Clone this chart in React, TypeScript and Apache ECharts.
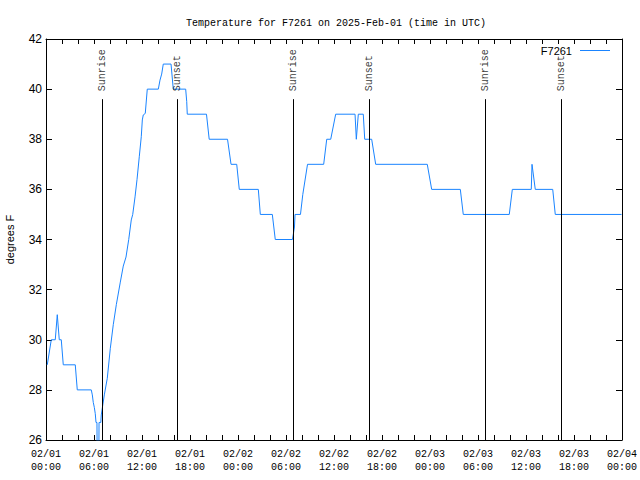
import React, { useEffect, useRef } from "react";
import * as echarts from "echarts";

const titleText = "Temperature for F7261 on 2025-Feb-01 (time in UTC)";
const seriesName = "F7261";
const yAxisName = "degrees F";

// hours since 2025-02-01 00:00 UTC
const tempHours = [
  0.16, 0.66, 1.16, 1.41, 1.66, 1.91, 2.16, 3.66, 3.91, 5.66, 5.79, 5.91, 6.04, 6.16, 6.25,
  6.37, 6.4, 6.6, 6.63, 6.85, 6.91, 7.29, 7.66, 8.04, 8.41, 8.79, 9.29, 9.66, 10.0, 10.34,
  10.66, 10.84, 11.13, 11.38, 11.66, 11.91, 12.04, 12.16, 12.41, 12.66, 14.04, 14.25, 14.46,
  14.66, 15.63, 15.91, 17.46, 17.59, 17.66, 20.06, 20.4, 22.69, 23.13, 23.84, 24.16, 26.54,
  26.79, 28.29, 28.66, 30.81, 31.06, 31.13, 31.81, 32.1, 32.69, 34.71, 35.09, 35.59, 36.21,
  38.63, 38.79, 39.04, 39.66, 39.84, 40.71, 41.21, 47.66, 48.21, 51.79, 52.16, 57.91, 58.29,
  60.66, 60.75, 61.16, 63.34, 63.66, 71.94,
];
const tempValues = [
  29, 30, 30, 31, 30, 30, 29, 29, 28, 28, 27.8, 27.5, 27.3, 27.05, 26.7,
  26.7, 25, 25, 26.7, 26.7, 27.0, 27.8, 28.46, 29.66, 30.6, 31.4, 32.3, 32.94, 33.3, 34.0,
  34.78, 35.0, 35.7, 36.4, 37.3, 38.1, 38.77, 38.97, 39.03, 40, 40, 40.36, 40.6,
  41, 41, 40, 40, 39.5, 39, 39, 38, 38, 37, 37, 36, 36,
  35, 35, 34, 34, 34.5, 35, 35, 35.8, 37, 37, 38, 38, 39,
  39, 38, 39, 39, 38, 38, 37, 37, 36, 36, 35, 35, 36,
  36, 37, 36, 36, 35, 35,
];

const sunNames = ["Sunrise", "Sunset", "Sunrise", "Sunset", "Sunrise", "Sunset"];
const sunHours = [7.0, 16.4, 30.95, 40.4, 54.95, 64.4];

const xTickLabels = [
  "02/01\n00:00", "02/01\n06:00", "02/01\n12:00", "02/01\n18:00",
  "02/02\n00:00", "02/02\n06:00", "02/02\n12:00", "02/02\n18:00",
  "02/03\n00:00", "02/03\n06:00", "02/03\n12:00", "02/03\n18:00",
  "02/04\n00:00",
];

const MONO = "'Liberation Mono', 'DejaVu Sans Mono', monospace";
const SANS = "'Liberation Sans', Arial, sans-serif";
const LINE_COLOR = "#1a84ff";

export default function App() {
  const ref = useRef<HTMLDivElement>(null);
  useEffect(() => {
    if (!ref.current) return;
    const chart = echarts.init(ref.current, null, { renderer: "svg" });
    const axisLine = { show: true, onZero: false, lineStyle: { color: "#000", width: 1 } };
    const xCommon = {
      type: "value" as const,
      min: 0,
      max: 72,
      interval: 6,
      axisLine,
      axisTick: { show: true, inside: true, length: 5, lineStyle: { color: "#000" } },
      minorTick: { show: true, splitNumber: 3, length: 5, lineStyle: { color: "#000" } },
      splitLine: { show: false },
      minorSplitLine: { show: false },
    };
    const yCommon = {
      type: "value" as const,
      min: 26,
      max: 42,
      interval: 2,
      axisLine,
      axisTick: { show: true, inside: true, length: 6, lineStyle: { color: "#000" } },
      splitLine: { show: false },
    };
    chart.setOption({
      animation: false,
      backgroundColor: "#fff",
      title: {
        text: titleText,
        left: 331,
        textAlign: "center",
        top: 13,
        textStyle: { fontFamily: MONO, fontSize: 10, fontWeight: "normal", color: "#000" },
      },
      legend: {
        data: [{ name: seriesName, icon: "rect" }],
        right: 25,
        top: 40,
        align: "right",
        itemWidth: 30,
        itemHeight: 1,
        itemGap: 8,
        textStyle: { fontFamily: SANS, fontSize: 11, color: "#000", padding: [0, 3, 0, 0] },
      },
      grid: {
        left: 46,
        top: 39,
        width: 576,
        height: 401,
        containLabel: false,
        outerBoundsMode: "none",
      },
      xAxis: [
        {
          ...xCommon,
          position: "bottom",
          axisLabel: {
            show: true,
            showMinLabel: true,
            showMaxLabel: true,
            hideOverlap: false,
            margin: 8,
            fontFamily: MONO,
            fontSize: 10,
            lineHeight: 13,
            color: "#000",
            formatter: (v: number) => xTickLabels[Math.round(v / 6)] ?? "",
          },
        },
        { ...xCommon, position: "top", axisLabel: { show: false } },
      ],
      yAxis: [
        {
          ...yCommon,
          position: "left",
          name: yAxisName,
          nameLocation: "middle",
          nameRotate: 90,
          nameGap: 31,
          nameMoveOverlap: false,
          nameTextStyle: { fontFamily: SANS, fontSize: 11, color: "#000" },
          axisLabel: { show: true, margin: 4, fontFamily: SANS, fontSize: 12, color: "#000" },
        },
        { ...yCommon, position: "right", axisLabel: { show: false } },
      ],
      series: [
        {
          name: seriesName,
          type: "line",
          xAxisIndex: 0,
          yAxisIndex: 0,
          data: tempHours.map((h, i) => [h, tempValues[i]]),
          symbol: "none",
          showSymbol: false,
          clip: true,
          lineStyle: { color: LINE_COLOR, width: 1 },
          itemStyle: { color: LINE_COLOR },
          z: 2,
          markLine: {
            silent: true,
            symbol: ["none", "none"],
            label: { show: false },
            lineStyle: { color: "#000", width: 1, type: "solid" },
            data: sunHours.map((h) => [{ coord: [h, 26] }, { coord: [h, 39.6] }]),
            z: 3,
          },
        },
        {
          name: "sunLabels",
          type: "scatter",
          xAxisIndex: 0,
          yAxisIndex: 0,
          symbolSize: 0,
          silent: true,
          data: sunHours.map((h, i) => ({ value: [h, 39.88], name: sunNames[i] })),
          label: {
            show: true,
            formatter: "{b}",
            position: "inside",
            rotate: 90,
            align: "left",
            verticalAlign: "middle",
            offset: [1, 0],
            fontFamily: MONO,
            fontSize: 10,
            color: "#000",
          },
        },
      ],
    });
    return () => chart.dispose();
  }, []);
  return (
    <div
      ref={ref}
      style={{ position: "fixed", left: 0, top: 0, width: 640, height: 480, background: "#fff" }}
    />
  );
}
